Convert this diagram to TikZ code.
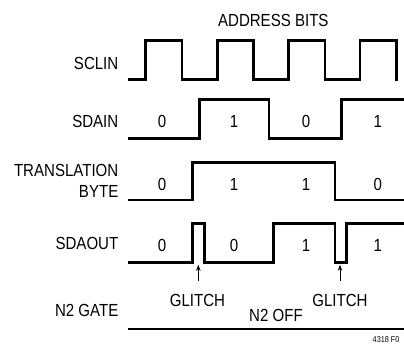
\documentclass[tikz,border=0pt]{standalone}
\usepackage{fontspec}
\setmainfont[FakeStretch=0.86]{Liberation Sans}
\usetikzlibrary{arrows.meta}
\begin{document}
\begin{tikzpicture}[x=1pt,y=-1pt,
  wave/.style={line width=2.6pt, line join=miter, line cap=butt},
  lbl/.style={inner sep=0pt, font=\fontsize{17.5}{21}\selectfont, anchor=east},
  txt/.style={inner sep=0pt, font=\fontsize{17.5}{21}\selectfont},
  glarrow/.style={line width=0.8pt, -{Stealth[length=6pt,width=4.5pt]}}]
\useasboundingbox (0,0) rectangle (404,343);
% title
\node[txt] (title) at (273.3,20.8) {ADDRESS BITS};
% labels
\node[lbl] (lsclin) at (118.5,63.3) {SCLIN};
\node[lbl] (lsdain) at (118.5,121) {SDAIN};
\node[lbl, align=right, font=\fontsize{17.5}{21}\selectfont] (ltrans) at (118.5,180.5) {TRANSLATION\\BYTE};
\node[lbl] (lsdaout) at (118.5,243) {SDAOUT};
\node[lbl] (ln2) at (118.5,310.5) {N2 GATE};
% SCLIN
\draw[wave] (128.3,79.3) -- (145.7,79.3) -- (145.7,40.7) -- (182,40.7) -- (182,79.3)
  -- (217.3,79.3) -- (217.3,40.7) -- (253.7,40.7) -- (253.7,79.3)
  -- (288.7,79.3) -- (288.7,40.7) -- (325,40.7) -- (325,79.3)
  -- (360,79.3) -- (360,40.7) -- (396.3,40.7) -- (396.3,80.6);
% SDAIN
\draw[wave] (128.3,138.3) -- (199.3,138.3) -- (199.3,99.3) -- (269,99.3) -- (269,138.3)
  -- (341.7,138.3) -- (341.7,99.3) -- (405,99.3);
\node[txt] (di1) at (162,121) {0};
\node[txt] (di2) at (234,121) {1};
\node[txt] (di3) at (306,121) {0};
\node[txt] (di4) at (377.7,121) {1};
% TRANSLATION BYTE
\draw[wave] (128.3,200) -- (192.3,200) -- (192.3,162.3) -- (335,162.3) -- (335,200) -- (405,200);
\node[txt] (tb1) at (162,184) {0};
\node[txt] (tb2) at (234,184) {1};
\node[txt] (tb3) at (306,184) {1};
\node[txt] (tb4) at (377.7,184) {0};
% SDAOUT
\draw[wave] (128.3,262.3) -- (192.3,262.3) -- (192.3,223.3) -- (204.3,223.3) -- (204.3,262.3)
  -- (273.3,262.3) -- (273.3,223.3) -- (335,223.3) -- (335,262.3) -- (346.7,262.3)
  -- (346.7,223.3) -- (405,223.3);
\node[txt] (do1) at (162,245) {0};
\node[txt] (do2) at (234,245) {0};
\node[txt] (do3) at (306,245) {1};
\node[txt] (do4) at (377.7,245) {1};
% glitch arrows
\node[txt] (g1) at (197.5,300) {GLITCH};
\node[txt] (g2) at (340,300) {GLITCH};
\coordinate (g1tip) at (198.3,264.8);
\coordinate (g2tip) at (340,264.8);
\coordinate (g1base) at (198.3,281);
\coordinate (g2base) at (340,281);
\draw[glarrow] (g1base) -- (g1tip);
\draw[glarrow] (g2base) -- (g2tip);
% N2 gate
\node[txt] (n2off) at (276,315) {N2 OFF};
\draw[wave] (128.3,329) -- (405,329);
\node[inner sep=0pt, anchor=west, font=\fontsize{8.5}{10}\selectfont] (fig) at (372.5,339.5) {4318 F0};
\end{tikzpicture}
\end{document}
